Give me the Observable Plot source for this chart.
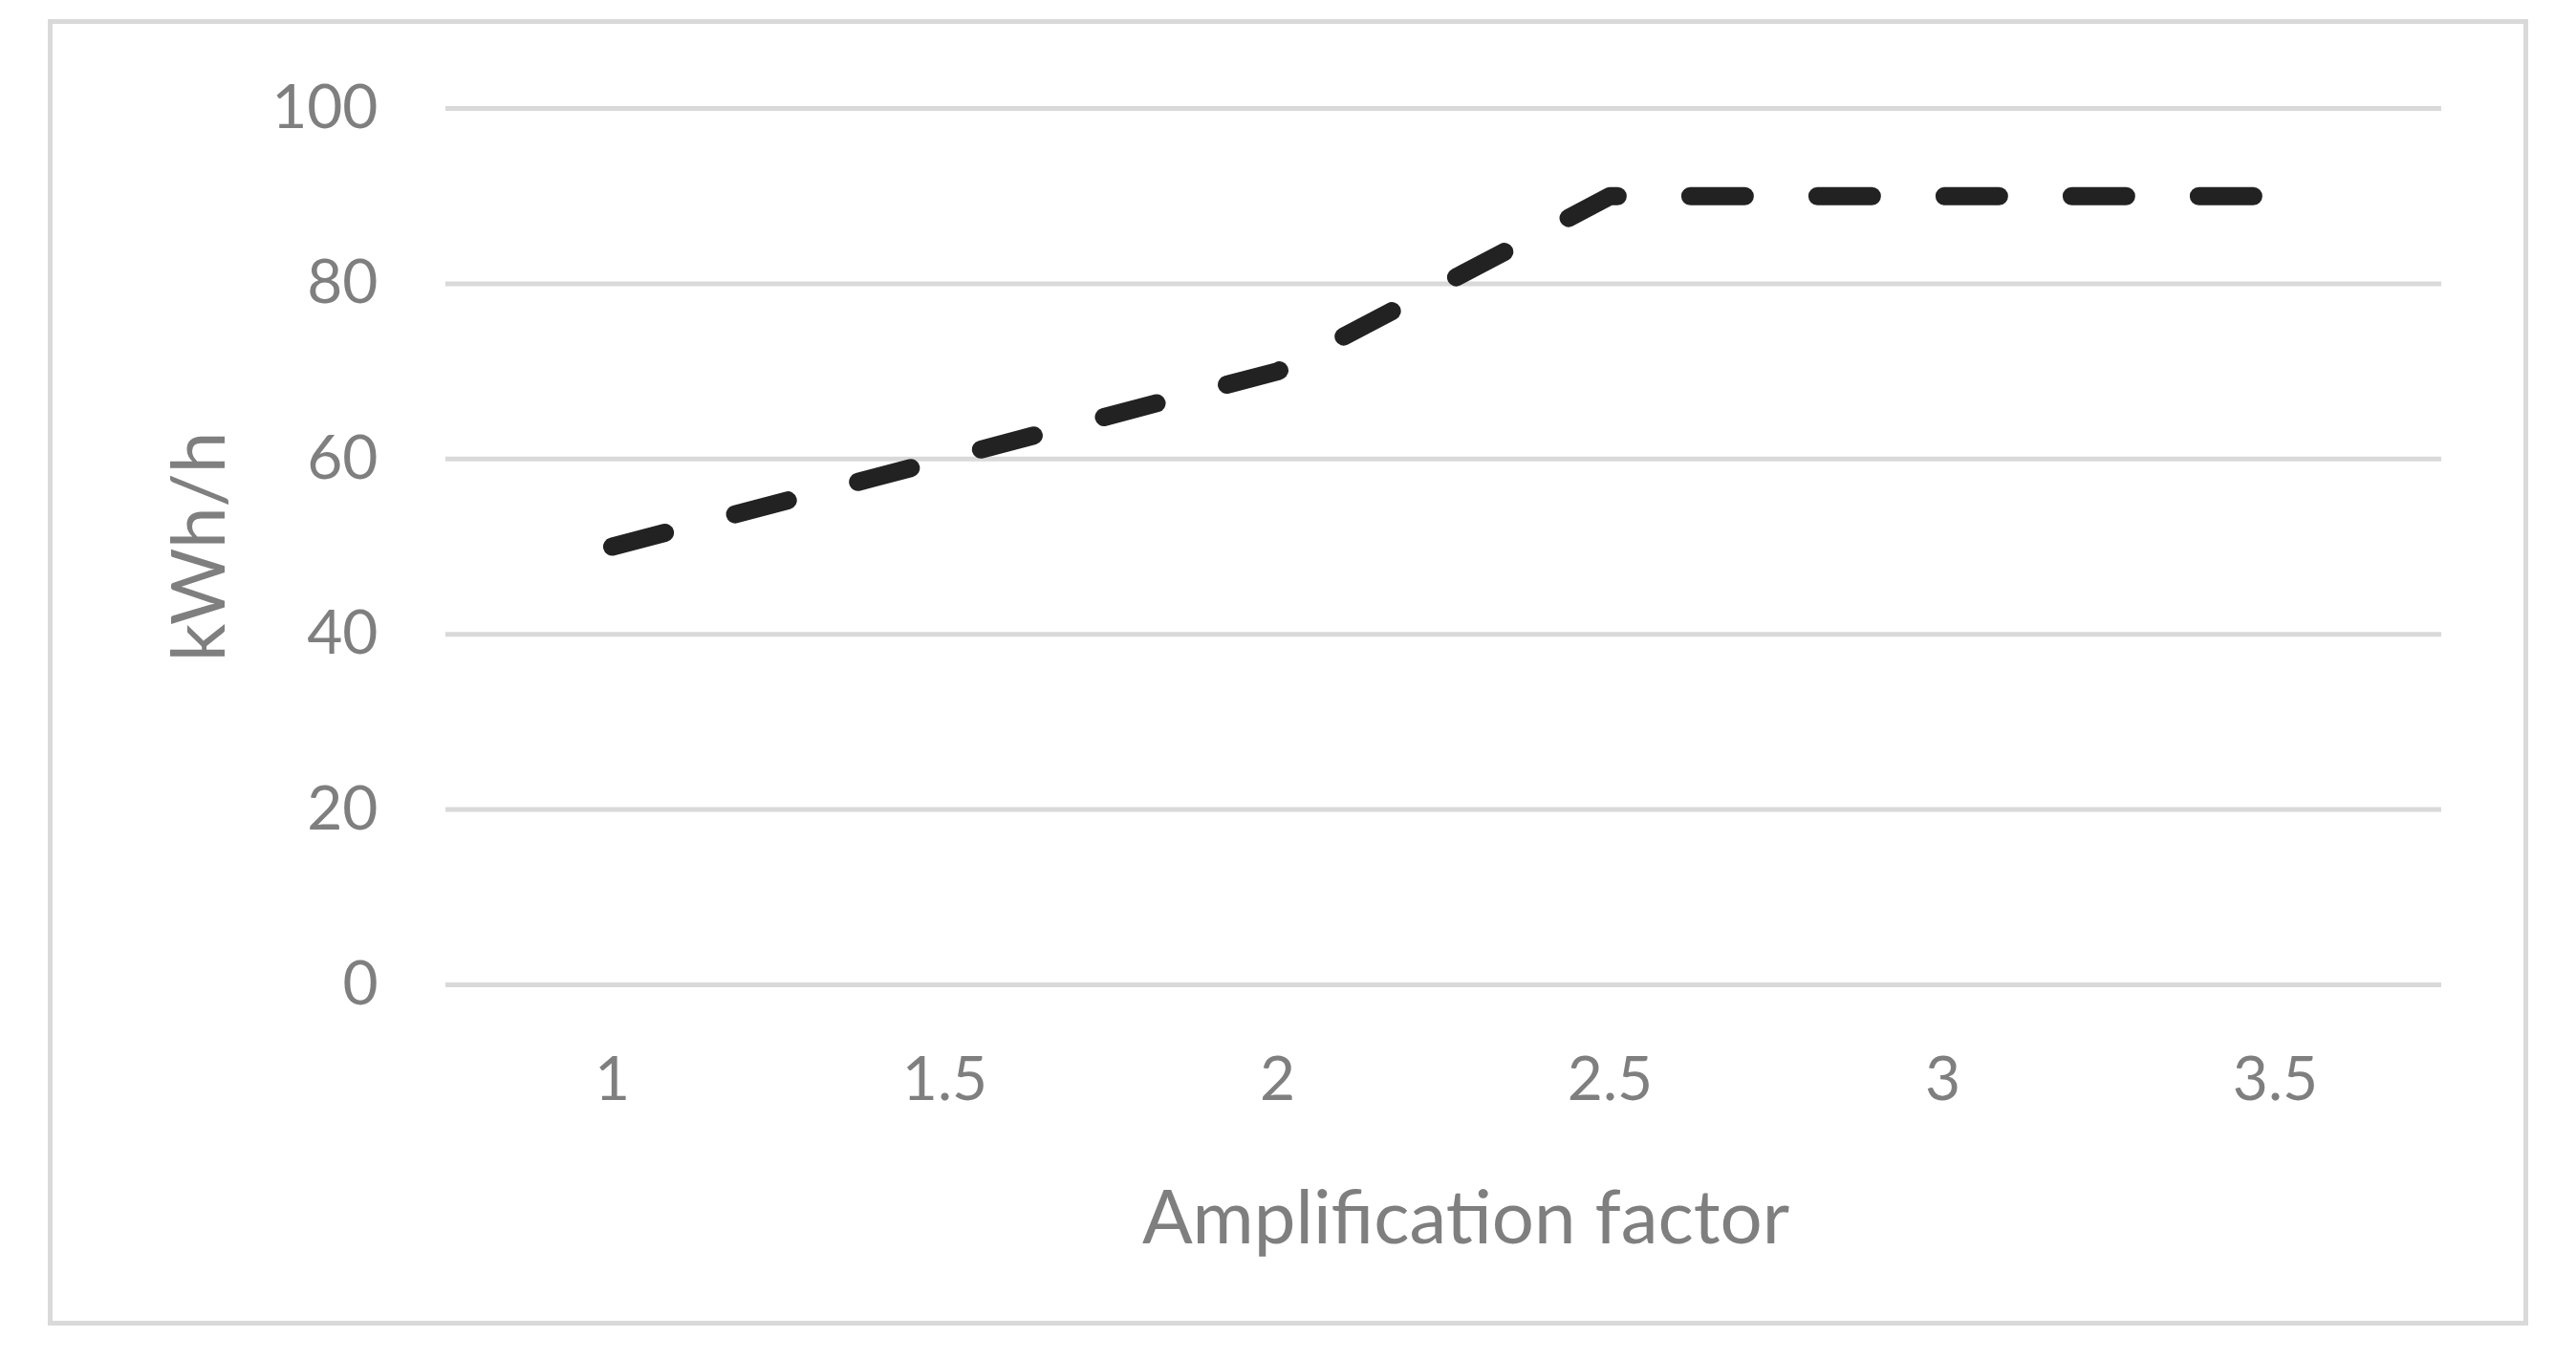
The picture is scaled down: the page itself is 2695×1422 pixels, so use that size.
<!DOCTYPE html>
<html>
<head>
<meta charset="utf-8">
<script src="https://cdn.jsdelivr.net/npm/d3@7"></script>
<script src="https://cdn.jsdelivr.net/npm/@observablehq/plot@0.6"></script>
<style>
  html, body { margin: 0; padding: 0; background: #ffffff; }
  #wrap { position: relative; width: 2695px; height: 1422px; }
  #border { position: absolute; left: 50px; top: 20px; width: 2585px; height: 1357px; border: 5px solid #d9d9d9; box-sizing: content-box; }
  #chart { position: absolute; left: 0; top: 0; }
</style>
</head>
<body>
<div id="wrap"><div id="border"></div><div id="chart"></div></div>
<script>
const categories = ["1", "1.5", "2", "2.5", "3", "3.5"];
const values = [50, 60, 70, 90, 90, 90];
const yTicks = [0, 20, 40, 60, 80, 100];
const xTitle = "Amplification factor";
const yTitle = "kWh/h";

const data = categories.map((c, i) => ({x: c, y: values[i]}));
const font = "Lato, 'Open Sans', sans-serif";
const gray = "#7f7f7f";

const chart = Plot.plot({
  width: 2695,
  height: 1422,
  marginLeft: 466,
  marginRight: 141,
  marginTop: 113,
  marginBottom: 392,
  style: {fontFamily: font, background: "transparent", overflow: "visible"},
  x: {type: "point", domain: categories, padding: 0.5},
  y: {domain: [0, 100]},
  marks: [
    Plot.ruleY(yTicks, {stroke: "#d9d9d9", strokeWidth: 5}),
    Plot.axisY(yTicks, {tickSize: 0, tickPadding: 71, fontSize: 64, color: gray, label: null}),
    Plot.axisX({tickSize: 0, tickPadding: 75, fontSize: 64, color: gray, label: null}),
    Plot.line(data, {x: "x", y: "y", stroke: "#222222", strokeWidth: 19,
      strokeDasharray: "57,76", strokeLinecap: "round", strokeLinejoin: "round"}),
    Plot.text([xTitle], {frameAnchor: "bottom", text: d => d, dx: 23, dy: 270,
      fontSize: 78, fill: gray}),
    Plot.text([yTitle], {frameAnchor: "left", textAnchor: "middle", text: d => d, dx: -256, rotate: -90,
      fontSize: 78, fill: gray})
  ]
});
document.getElementById("chart").appendChild(chart);
</script>
</body>
</html>
